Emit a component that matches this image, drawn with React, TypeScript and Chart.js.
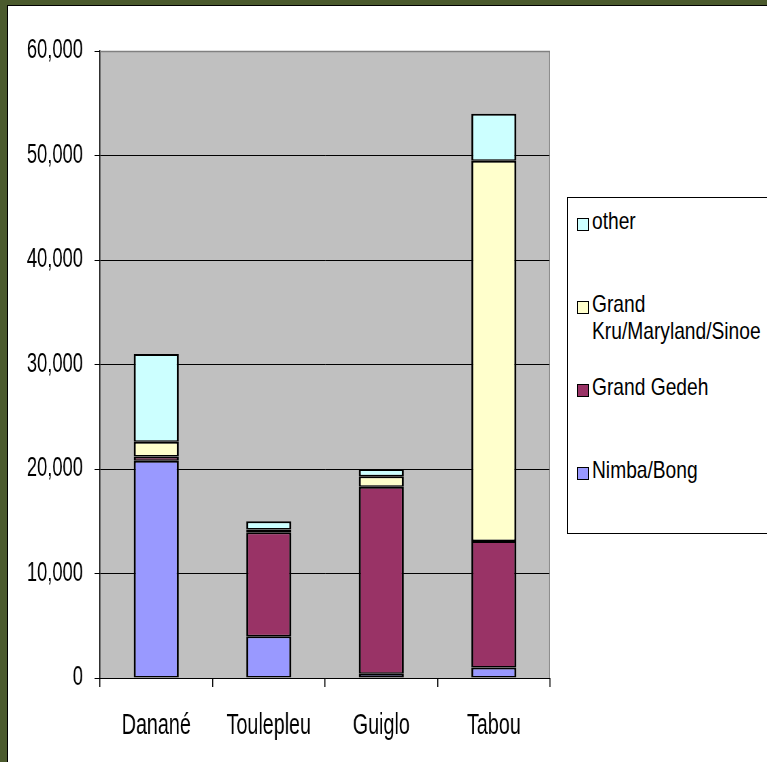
import { useEffect, useRef } from 'react';
import { Chart, ChartConfiguration, registerables } from 'chart.js';

Chart.register(...registerables);

const camps = ['Danané', 'Toulepleu', 'Guiglo', 'Tabou'];
const nimbaBong = [20800, 4000, 400, 1000];
const grandGedeh = [400, 9950, 17900, 12100];
const grandKru = [1400, 250, 1000, 36400];
const other = [8400, 800, 700, 4500];

const yMax = 60000;
const yStep = 10000;

const FONT = '"Liberation Sans", Arial, sans-serif';

// the original text is tall and narrow: draw the canvas wider and squeeze it back
const SQUEEZE = 0.68;
const W = 767;
const H = 762;
const CW = Math.round(W / SQUEEZE);

// legend is listed top to bottom in reverse stack order, like the original
const legendItems = [
  { lines: ['other'], color: '#CCFFFF', top: 207 },
  { lines: ['Grand', 'Kru/Maryland/Sinoe'], color: '#FFFFCC', top: 290 },
  { lines: ['Grand Gedeh'], color: '#993366', top: 373 },
  { lines: ['Nimba/Bong'], color: '#9999FF', top: 456 },
];

// gray plot background plus the lighter top/right frame
const plotArea = {
  id: 'plotArea',
  beforeDraw(chart: Chart) {
    const { ctx, chartArea } = chart;
    ctx.save();
    ctx.fillStyle = '#C0C0C0';
    ctx.fillRect(chartArea.left, chartArea.top, chartArea.right - chartArea.left, chartArea.bottom - chartArea.top);
    ctx.restore();
  },
  afterDraw(chart: Chart) {
    const { ctx, chartArea } = chart;
    ctx.save();
    ctx.strokeStyle = '#808080';
    ctx.lineWidth = 1.5;
    ctx.beginPath();
    ctx.moveTo(chartArea.left, chartArea.top + 0.5);
    ctx.lineTo(chartArea.right - 0.75, chartArea.top + 0.5);
    ctx.lineTo(chartArea.right - 0.75, chartArea.bottom);
    ctx.stroke();
    ctx.restore();
  },
};

export default function App() {
  const canvasRef = useRef<HTMLCanvasElement>(null);
  const chartRef = useRef<Chart | null>(null);

  useEffect(() => {
    if (!canvasRef.current) return;
    const ctx = canvasRef.current.getContext('2d');
    if (!ctx) return;

    if (chartRef.current) {
      chartRef.current.destroy();
    }

    // side borders are squeezed with the canvas, so they are drawn wider
    const bar = {
      borderColor: '#000000',
      borderWidth: { top: 2, bottom: 1.5, left: 3, right: 3 },
      borderSkipped: false,
      barPercentage: 0.4,
      categoryPercentage: 1,
    };

    const config: ChartConfiguration = {
      type: 'bar',
      data: {
        labels: camps,
        datasets: [
          { label: 'Nimba/Bong', data: nimbaBong, backgroundColor: '#9999FF', ...bar },
          { label: 'Grand Gedeh', data: grandGedeh, backgroundColor: '#993366', ...bar },
          { label: 'Grand Kru/Maryland/Sinoe', data: grandKru, backgroundColor: '#FFFFCC', ...bar },
          { label: 'other', data: other, backgroundColor: '#CCFFFF', ...bar },
        ],
      },
      options: {
        animation: false,
        responsive: false,
        maintainAspectRatio: false,
        layout: { padding: { left: 0, top: 51, right: Math.round(217 / SQUEEZE), bottom: 0 } },
        plugins: {
          legend: { display: false },
          tooltip: { enabled: false },
        },
        scales: {
          x: {
            stacked: true,
            offset: true,
            grid: {
              offset: true,
              drawOnChartArea: false,
              drawTicks: true,
              tickLength: 9,
              lineWidth: 1.5,
              color: '#000000',
            },
            border: { color: '#000000', width: 1 },
            ticks: {
              color: '#000000',
              padding: 22,
              font: { family: FONT, size: 29 },
            },
            afterFit: (scale: any) => {
              scale.height = H - 678;
            },
          },
          y: {
            stacked: true,
            min: 0,
            max: yMax,
            grid: {
              color: (c: any) => (c.tick && c.tick.value === yMax ? '#808080' : '#000000'),
              lineWidth: 1,
              tickLength: 8,
              tickColor: '#000000',
            },
            border: { color: '#000000', width: 1.5 },
            ticks: {
              stepSize: yStep,
              color: '#000000',
              padding: 17,
              font: { family: FONT, size: 27 },
              callback: (v: any) => Number(v).toLocaleString('en-US'),
            },
            afterFit: (scale: any) => {
              scale.width = Math.round(100 / SQUEEZE);
            },
          },
        },
      },
      plugins: [plotArea],
    };

    chartRef.current = new Chart(ctx, config);

    return () => {
      if (chartRef.current) {
        chartRef.current.destroy();
      }
    };
  }, []);

  return (
    <div
      style={{
        position: 'fixed',
        left: 0,
        top: 0,
        width: W,
        height: H,
        overflow: 'hidden',
        background: '#4B5A2D',
        fontFamily: FONT,
      }}
    >
      <div
        style={{
          position: 'absolute',
          left: 7,
          top: 5,
          right: -10,
          bottom: -10,
          background: '#FFFFFF',
          borderLeft: '1.5px solid #000000',
          borderTop: '1.5px solid #000000',
        }}
      />
      <div
        style={{
          position: 'absolute',
          left: 0,
          top: 0,
          width: CW,
          height: H,
          transform: `scaleX(${SQUEEZE})`,
          transformOrigin: '0 0',
        }}
      >
        <canvas ref={canvasRef} width={CW} height={H} style={{ width: CW, height: H, display: 'block' }} />
      </div>
      {/* legend box */}
      <div
        style={{
          position: 'absolute',
          left: 567,
          top: 197,
          width: 220,
          height: 335,
          border: '1px solid #000000',
          background: '#FFFFFF',
        }}
      />
      {legendItems.map((item) => (
        <div key={item.lines.join(' ')} style={{ position: 'absolute', left: 577, top: item.top }}>
          <div
            style={{
              position: 'absolute',
              left: 0,
              top: 11,
              width: 10,
              height: 11,
              background: item.color,
              border: '1px solid #000000',
            }}
          />
          <div
            style={{
              position: 'absolute',
              left: 15,
              top: 0,
              whiteSpace: 'nowrap',
              fontSize: 24,
              lineHeight: '27px',
              color: '#000000',
              transform: 'scaleX(0.8)',
              transformOrigin: '0 0',
            }}
          >
            {item.lines.map((l) => (
              <div key={l}>{l}</div>
            ))}
          </div>
        </div>
      ))}
    </div>
  );
}
